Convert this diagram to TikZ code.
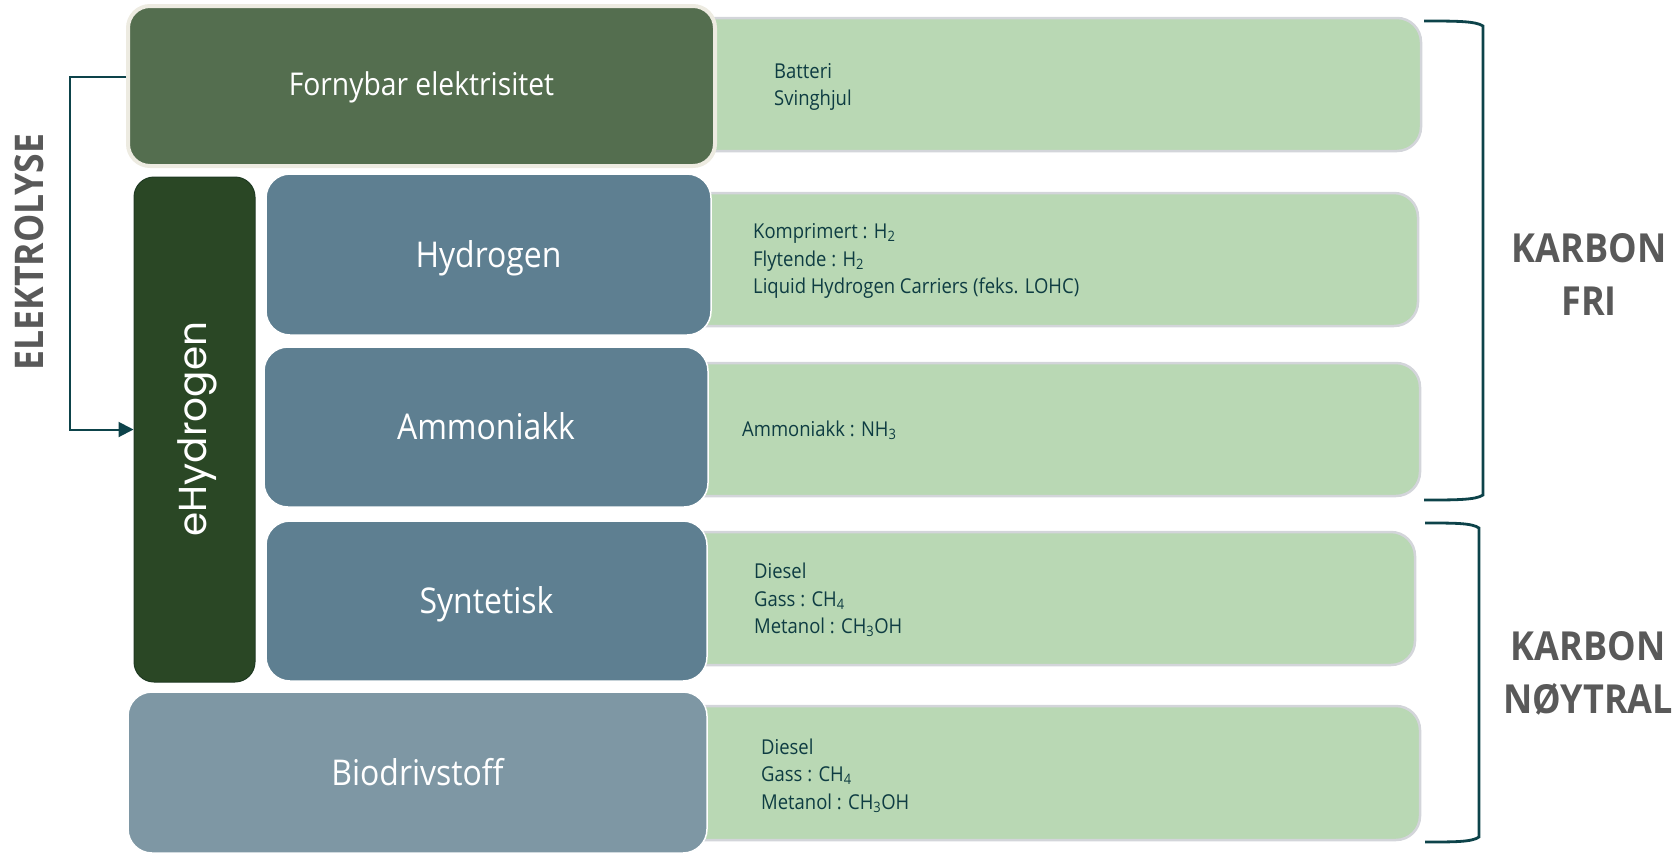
\documentclass[tikz,border=0pt]{standalone}
\usepackage{fontspec}
\setmainfont{Open Sans}[FakeStretch=0.9]
\newfontfamily\geofont{Poppins}
\usetikzlibrary{arrows.meta}
\definecolor{fornyfill}{HTML}{546E4F}
\definecolor{fornyborder}{HTML}{EDEBE1}
\definecolor{ehydfill}{HTML}{2A4725}
\definecolor{ehydborder}{HTML}{1F3A22}
\definecolor{bluefill}{HTML}{5E7F91}
\definecolor{biofill}{HTML}{7E97A4}
\definecolor{greenfill}{HTML}{B9D8B4}
\definecolor{greenborder}{HTML}{D3D5DA}
\definecolor{darktext}{HTML}{0E3C42}
\definecolor{linecol}{HTML}{0D434A}
\definecolor{graytext}{HTML}{595959}
\tikzset{
  box/.style={rectangle, rounded corners=24pt, inner sep=0pt, text=white, text height=26pt, text depth=7pt},
  greenbox/.style={box, fill=greenfill, draw=greenborder, line width=2.5pt},
  bluebox/.style={box, fill=bluefill, draw=white, line width=1.5pt, text height=29pt, text depth=4pt, font=\fontsize{35.5}{40}\selectfont},
  gtext/.style={anchor=west, inner sep=0pt, align=left, text=darktext, font=\fontsize{20.5}{27.5}\selectfont},
  bigside/.style={inner sep=0pt, align=center, text=graytext, font=\bfseries\fontsize{40}{53}\selectfont},
  connector/.style={draw=linecol, line width=2pt},
  bracketline/.style={draw=linecol, line width=2.8pt}
}
\begin{document}
\begin{tikzpicture}[x=1pt,y=-1pt]
\useasboundingbox (0,0) rectangle (1678,852);
% green boxes (behind)
\node[greenbox, minimum width=761pt, minimum height=133pt] (g1) at (1040.5,84.5) {};
\node[greenbox, minimum width=758pt, minimum height=133pt] (g2) at (1039,259.5) {};
\node[greenbox, minimum width=760pt, minimum height=133pt] (g3) at (1040,429.5) {};
\node[greenbox, minimum width=755pt, minimum height=133pt] (g4) at (1037.5,598.5) {};
\node[greenbox, minimum width=760pt, minimum height=134pt] (g5) at (1040,773) {};
% main boxes
\node[box, fill=fornyfill, draw=fornyborder, line width=4pt, rounded corners=22pt,
      minimum width=587pt, minimum height=160pt, font=\fontsize{31.4}{36}\selectfont] (forny) at (421.5,86) {Fornybar elektrisitet};
\node[box, fill=ehydfill, draw=ehydborder, line width=1pt, rounded corners=20pt,
      minimum width=121pt, minimum height=505pt] (ehyd) at (194.5,429.5) {};
\node[text=white, rotate=90, inner sep=0pt, font=\geofont\fontsize{39}{44}\selectfont] (ehydlabel) at (197,429) {eHydrogen};
\node[bluebox, minimum width=445pt, minimum height=161pt] (hyd) at (488.5,254.5) {Hydrogen};
\node[bluebox, minimum width=444pt, minimum height=160pt] (amm) at (486,427) {Ammoniakk};
\node[bluebox, minimum width=441pt, minimum height=160pt] (syn) at (486.5,601) {Syntetisk};
\node[bluebox, fill=biofill, minimum width=579pt, minimum height=161pt] (bio) at (417.5,772.5) {Biodrivstoff};
% green box texts
\node[gtext] (t1) at (774,87) {Batteri\\Svinghjul};
\node[gtext] (t2) at (753,261) {Komprimert : H\textsubscript{2}\\Flytende : H\textsubscript{2}\\Liquid Hydrogen Carriers (feks. LOHC)};
\node[gtext] (t3) at (742,430) {Ammoniakk : NH\textsubscript{3}};
\node[gtext] (t4) at (754,600) {Diesel\\Gass : CH\textsubscript{4}\\Metanol : CH\textsubscript{3}OH};
\node[gtext] (t5) at (761,775.5) {Diesel\\Gass : CH\textsubscript{4}\\Metanol : CH\textsubscript{3}OH};
% side labels
\node[bigside, rotate=90, font=\bfseries\fontsize{39.5}{44}\selectfont] (elek) at (29,252) {ELEKTROLYSE};
\node[bigside] (kfri) at (1589,274) {KARBON\\FRI};
\node[bigside] (knoy) at (1588,673) {KARBON\\NØYTRAL};
% connector
\coordinate (e1) at (70,77);
\draw[connector, -{Triangle[length=15pt,width=15pt]}] ([yshift=9pt]forny.west) -- (e1) |- (ehyd.west);
% brackets
\draw[bracketline] (1424,21) .. controls (1455,21) and (1476,21) .. (1483,26) -- (1483,495) .. controls (1476,500) and (1455,500) .. (1424,500);
\draw[bracketline] (1425,523) .. controls (1455,523) and (1472,523) .. (1479,528) -- (1479,837) .. controls (1472,842) and (1455,842) .. (1425,842);
\end{tikzpicture}
\end{document}
